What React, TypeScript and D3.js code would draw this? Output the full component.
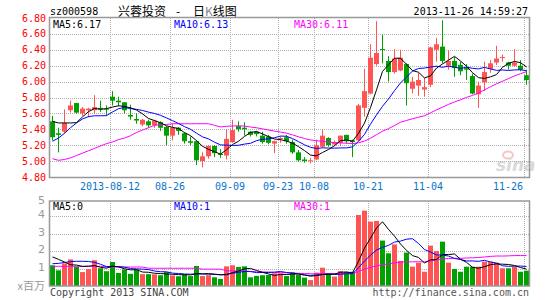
import React, { useEffect } from 'react';
import * as d3 from 'd3';

// ---- data ----
const opens = [5.50,5.35,5.37,5.64,5.73,5.60,5.64,5.64,5.67,5.66,5.81,5.76,5.74,5.58,5.53,5.46,5.50,5.45,5.49,5.43,
  5.32,5.42,5.35,5.25,5.25,5.00,5.06,5.19,5.09,5.07,5.24,5.44,5.42,5.37,5.37,5.32,5.31,5.22,5.28,5.30,
  5.24,5.11,5.02,5.00,5.02,5.18,5.29,5.21,5.23,5.33,5.26,5.26,5.67,5.85,6.22,6.41,6.26,6.12,6.14,6.22,
  5.91,5.95,5.90,5.96,6.40,6.44,6.20,6.26,6.21,6.17,6.07,5.84,5.99,6.16,6.24,6.30,6.24,6.20,6.20,6.08];
const highs = [5.57,5.42,5.65,5.76,5.73,5.68,5.67,5.83,5.76,5.70,5.88,5.81,5.74,5.71,5.60,5.53,5.52,5.52,5.50,5.44,
  5.47,5.43,5.36,5.31,5.26,5.11,5.20,5.20,5.15,5.40,5.52,5.50,5.49,5.38,5.38,5.37,5.33,5.26,5.31,5.33,
  5.27,5.14,5.05,5.04,5.27,5.40,5.30,5.26,5.32,5.33,5.27,5.72,6.16,6.47,6.76,6.59,6.32,6.41,6.40,6.23,
  6.06,6.11,6.05,6.44,6.55,6.77,6.39,6.31,6.25,6.22,6.10,6.00,6.25,6.27,6.45,6.34,6.25,6.41,6.27,6.15];
const lows = [5.26,5.11,5.35,5.61,5.60,5.57,5.55,5.60,5.62,5.57,5.70,5.69,5.60,5.52,5.47,5.44,5.42,5.42,5.38,5.20,
  5.26,5.33,5.22,5.20,4.95,4.92,5.03,5.05,5.04,5.02,5.23,5.37,5.32,5.31,5.31,5.22,5.21,5.10,5.23,5.22,
  5.09,4.99,4.98,4.97,5.01,5.17,5.18,5.19,5.19,5.22,5.05,5.25,5.56,5.84,6.20,6.23,6.00,6.10,6.13,5.70,
  5.85,5.82,5.81,5.93,6.25,6.23,6.15,6.06,6.08,6.02,5.84,5.67,5.88,6.11,6.21,6.25,6.15,6.19,6.13,5.96];
const closes = [5.30,5.33,5.48,5.70,5.61,5.66,5.66,5.68,5.65,5.65,5.76,5.74,5.64,5.56,5.51,5.52,5.45,5.51,5.42,5.32,
  5.42,5.38,5.25,5.23,5.01,5.06,5.19,5.10,5.08,5.28,5.39,5.40,5.40,5.33,5.34,5.24,5.23,5.25,5.29,5.25,
  5.11,5.01,5.00,5.01,5.20,5.32,5.20,5.24,5.32,5.25,5.24,5.70,5.88,6.30,6.36,6.40,6.12,6.29,6.30,5.98,
  6.00,6.02,5.93,6.43,6.47,6.26,6.26,6.17,6.13,6.15,5.85,5.95,6.12,6.23,6.29,6.31,6.20,6.24,6.15,6.02];
// volume, millions of shares
const volumes = [1.19,0.90,1.30,1.53,1.10,0.80,0.97,1.48,1.02,0.85,1.38,0.75,0.95,0.70,0.93,0.68,0.68,0.67,0.62,0.80,
  0.61,0.56,0.65,0.57,1.15,0.57,0.62,0.50,0.40,1.13,1.19,1.09,1.13,0.50,0.58,0.62,0.63,0.73,0.73,0.57,
  0.79,0.63,0.48,0.34,0.77,1.05,0.73,0.54,0.86,0.82,0.82,4.08,4.33,3.70,3.74,2.61,1.88,2.39,1.44,1.92,
  1.11,1.34,0.82,2.32,2.01,2.55,1.34,0.98,0.82,1.11,1.11,1.11,1.40,1.40,1.34,1.02,1.02,1.11,0.82,0.88];

// moving-average values before a full window exists
const ma5Head = [5.50,5.48,5.48,5.48];
const ma10Head = [5.25,5.29,5.35,5.42,5.48,5.53,5.56,5.57,5.57];
const ma30Head = [5.03,5.01,5.02,5.04,5.07,5.10,5.13,5.16,5.19,5.22,5.24,5.27,5.29,5.32,5.36,5.39,5.42,5.45,5.46,5.46,
  5.47,5.47,5.47,5.47,5.47,5.47,5.47,5.45,5.43];
const volMa5Head = [1.67,1.53,1.38,1.22];
const volMa10Head = [1.28,1.30,1.35,1.40,1.42,1.42,1.41,1.36,1.25];
const volMa30Head = [1.13,1.13,1.13,1.13,1.13,1.13,1.13,1.13,1.13,1.09,1.09,1.09,1.09,1.09,1.09,1.09,
  1.02,1.02,1.02,1.02,1.02,1.02,1.02,1.02,1.02,0.97,0.97,0.97,0.97];

const priceTicks = [6.8,6.6,6.4,6.2,6.0,5.8,5.6,5.4,5.2,5.0,4.8];
const volTicks = [5,4,3,2,1];
const dateTickIndex = [10,20,30,38,44,53,63,79];
const dateTickLabels = ['2013-08-12','08-26','09-09','09-23','10-08','10-21','11-04','11-26'];

const stockCode = 'sz000598';
const stockName = '兴蓉投资';
const timeStamp = '2013-11-26 14:59:27';
const priceMaLabels = ['MA5:6.17','MA10:6.13','MA30:6.11'];
const volMaLabels = ['MA5:0','MA10:1','MA30:1'];

const RED = '#ff5454';
const GREEN = '#00a000';
const MONO = '"DejaVu Sans Mono", monospace';
const GRID = '#b0b0b0';

function movingAvg(vals: number[], k: number, head: number[]) {
  return vals.map((_, i) => (i < k - 1 ? head[i] : (d3.mean(vals.slice(i - k + 1, i + 1)) as number)));
}

export default function App() {
  useEffect(() => { document.body.style.margin = '0'; }, []);
  const n = closes.length;
  const x = d3.scaleLinear().domain([0, 80]).range([50, 530]);
  const y = d3.scaleLinear().domain([4.8, 6.8]).range([177, 18]);
  const yv = d3.scaleLinear().domain([0, 4]).range([286, 216.4]);
  const cx = (i: number) => x(i) + 2.5;

  const pLine = d3.line<number>().x((_, i) => cx(i)).y(d => y(d));
  const vLine = d3.line<number>().x((_, i) => cx(i)).y(d => yv(d));

  const ma5 = movingAvg(closes, 5, ma5Head);
  const ma10 = movingAvg(closes, 10, ma10Head);
  const ma30 = movingAvg(closes, 30, ma30Head);
  const vma5 = movingAvg(volumes, 5, volMa5Head);
  const vma10 = movingAvg(volumes, 10, volMa10Head);
  const vma30 = movingAvg(volumes, 30, volMa30Head);

  const up = (i: number) => closes[i] >= opens[i];
  const idx = d3.range(n);

  return (
    <svg width={545} height={300} style={{ position: 'absolute', left: 0, top: 0, background: '#fff' }}
      fontFamily={MONO}>
      {/* header */}
      <text x={50} y={15} fontSize={10} fill="#000">{stockCode}</text>
      <text x={118} y={16} fontSize={12} fontFamily='"Noto Sans CJK SC", sans-serif' fill="#000">
        {stockName}
        <tspan x={176}>-</tspan>
        <tspan x={193}>日</tspan>
        <tspan fill="#888">K</tspan>
        <tspan>线图</tspan>
      </text>
      <text x={528} y={15} fontSize={10} textAnchor="end" fill="#000">{timeStamp}</text>

      {/* price grid */}
      {priceTicks.slice(1, -1).map(t => (
        <line key={'pg' + t} x1={50} x2={529} y1={Math.round(y(t)) + 0.5} y2={Math.round(y(t)) + 0.5}
          stroke={GRID} strokeDasharray="1,1" />
      ))}
      {dateTickIndex.map(i => (
        <line key={'vg' + i} x1={x(i) + 0.5} x2={x(i) + 0.5} y1={18} y2={177} stroke={GRID} strokeDasharray="1,1" />
      ))}
      {priceTicks.map(t => (
        <text key={'pt' + t} x={46} y={y(t) + 3.5} fontSize={10} textAnchor="end" fill="#ff0000">{t.toFixed(2)}</text>
      ))}

      {/* sina watermark */}
      <g opacity={0.6}>
        <ellipse cx={508} cy={155} rx={5} ry={3.5} fill="none" stroke="#f4a0a0" strokeWidth={2} />
        <text x={496} y={171} fontSize={17} fontStyle="italic" fontWeight="bold" fontFamily="Verdana, 'DejaVu Sans', sans-serif" fill="#c0c0c0">sina</text>
      </g>

      {/* candles */}
      {idx.map(i => {
        const col = up(i) ? RED : GREEN;
        const top = y(Math.max(opens[i], closes[i]));
        const bot = y(Math.min(opens[i], closes[i]));
        return (
          <g key={'c' + i}>
            <line x1={cx(i)} x2={cx(i)} y1={y(highs[i])} y2={y(lows[i])} stroke={col} strokeWidth={1} />
            <rect x={x(i)} y={top} width={5} height={Math.max(1, bot - top)} fill={col} />
          </g>
        );
      })}

      {/* price MAs */}
      <path d={pLine(ma30) || ''} fill="none" stroke="#ff00ff" strokeWidth={1} />
      <path d={pLine(ma10) || ''} fill="none" stroke="#0000ff" strokeWidth={1} />
      <path d={pLine(ma5) || ''} fill="none" stroke="#000" strokeWidth={1} />

      <rect x={49.5} y={17.5} width={480} height={160} fill="none" stroke="#999" strokeWidth={1.5} />

      <text x={53} y={28} fontSize={10} fill="#000">{priceMaLabels[0]}</text>
      <text x={174} y={28} fontSize={10} fill="#0000ff">{priceMaLabels[1]}</text>
      <text x={294} y={28} fontSize={10} fill="#ff00ff">{priceMaLabels[2]}</text>

      {/* date labels */}
      {dateTickIndex.map((i, k) => {
        const lab = dateTickLabels[k];
        const w = lab.length * 6;
        let cxp = x(i);
        if (cxp + w / 2 > 523) cxp = 523 - w / 2;
        return (
          <text key={'dl' + i} x={cxp} y={190} fontSize={10} textAnchor="middle" fill="#0a74c8">{lab}</text>
        );
      })}

      {/* volume panel */}
      {[1, 2, 3, 4].map(t => (
        <line key={'vgl' + t} x1={50} x2={529} y1={Math.round(yv(t)) + 0.5} y2={Math.round(yv(t)) + 0.5}
          stroke={GRID} strokeDasharray="1,1" />
      ))}
      {dateTickIndex.map(i => (
        <line key={'vvg' + i} x1={x(i) + 0.5} x2={x(i) + 0.5} y1={201} y2={286} stroke={GRID} strokeDasharray="1,1" />
      ))}
      {volTicks.map(t => (
        <text key={'vt' + t} x={45} y={t === 5 ? 204 : yv(t) + 2} fontSize={11} textAnchor="end"
          fontFamily='"DejaVu Sans", sans-serif' fill="#999">{t}</text>
      ))}
      <text x={45} y={290} fontSize={11} textAnchor="end" fontFamily='"Noto Sans CJK SC", sans-serif' fill="#999">x百万</text>

      {idx.map(i => (
        <rect key={'v' + i} x={x(i)} y={yv(volumes[i])} width={5} height={yv(0) - yv(volumes[i])}
          fill={up(i) ? RED : GREEN} />
      ))}
      <path d={vLine(vma30) || ''} fill="none" stroke="#ff00ff" strokeWidth={1} />
      <path d={vLine(vma10) || ''} fill="none" stroke="#0000ff" strokeWidth={1} />
      <path d={vLine(vma5) || ''} fill="none" stroke="#000" strokeWidth={1} />

      <rect x={49.5} y={201} width={480} height={85} fill="none" stroke="#999" strokeWidth={1.5} />
      <text x={53} y={210} fontSize={10} fill="#000">{volMaLabels[0]}</text>
      <text x={174} y={210} fontSize={10} fill="#0000ff">{volMaLabels[1]}</text>
      <text x={294} y={210} fontSize={10} fill="#ff00ff">{volMaLabels[2]}</text>

      {/* footer */}
      <text x={50} y={296} fontSize={10} fill="#444">Copyright 2013 SINA.COM</text>
      <text x={529} y={296} fontSize={10} textAnchor="end" fill="#555">http://finance.sina.com.cn</text>
    </svg>
  );
}
